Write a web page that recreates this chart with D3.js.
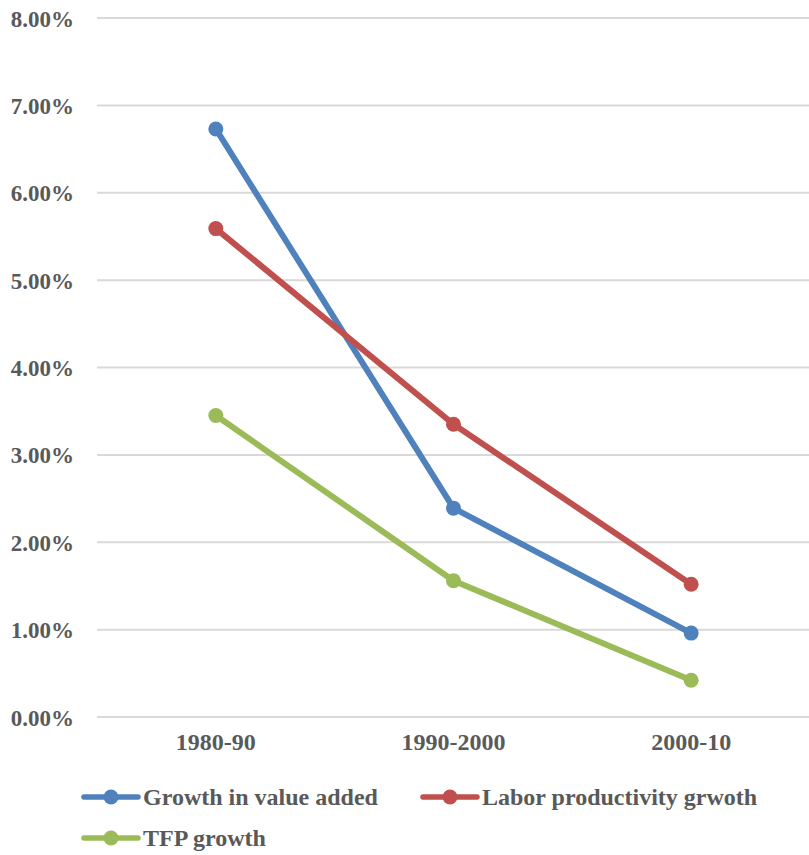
<!DOCTYPE html>
<html><head><meta charset="utf-8">
<script src="https://cdn.jsdelivr.net/npm/d3@7"></script>
<style>body{margin:0;background:#fff}</style>
</head><body>
<svg id="c" width="809" height="855"></svg>
<script>
const categories = ["1980-90", "1990-2000", "2000-10"];
const growthValueAdded = [6.73, 2.39, 0.96];
const laborProductivity = [5.59, 3.35, 1.52];
const tfpGrowth = [3.45, 1.56, 0.42];
const yTicks = [0, 1, 2, 3, 4, 5, 6, 7, 8];
const seriesNames = ["Growth in value added", "Labor productivity grwoth", "TFP growth"];
const seriesColors = ["#4F81BD", "#C0504D", "#9BBB59"];

const series = [growthValueAdded, laborProductivity, tfpGrowth].map((v, i) => ({name: seriesNames[i], color: seriesColors[i], values: v}));

const svg = d3.select("#c");
const font = "'Liberation Serif','Times New Roman',serif";
const x = d3.scaleBand().domain(categories).range([97, 810]);
const y = d3.scaleLinear().domain([0, 8]).range([717, 18]);

// gridlines
svg.append("g").selectAll("line").data(yTicks).join("line")
  .attr("x1", 97).attr("x2", 809)
  .attr("y1", d => y(d)).attr("y2", d => y(d))
  .attr("stroke", "#D9D9D9").attr("stroke-width", 2);

// y axis labels
const yAxis = d3.axisLeft(y).tickValues(yTicks).tickFormat(d => d.toFixed(2) + "%").tickSize(0).tickPadding(0);
const ya = svg.append("g").attr("transform", "translate(74,0)").call(yAxis);
ya.select(".domain").remove();
ya.selectAll("text").attr("font-family", font).attr("font-weight", "bold").attr("font-size", 23).attr("fill", "#595959").attr("dy", "0.35em");

// x axis labels
const xAxis = d3.axisBottom(x).tickSize(0).tickPadding(0);
const xa = svg.append("g").attr("transform", "translate(0,728)").call(xAxis);
xa.select(".domain").remove();
xa.selectAll("text").attr("font-family", font).attr("font-weight", "bold").attr("font-size", 24).attr("fill", "#595959").attr("dy", "0.9em");

const cx = c => x(c) + x.bandwidth() / 2;
const line = d3.line().x((d, i) => cx(categories[i])).y(d => y(d));

series.forEach(s => {
  svg.append("path").datum(s.values).attr("d", line)
    .attr("fill", "none").attr("stroke", s.color).attr("stroke-width", 6).attr("stroke-linejoin", "round").attr("stroke-linecap", "round");
  svg.append("g").selectAll("circle").data(s.values).join("circle")
    .attr("cx", (d, i) => cx(categories[i])).attr("cy", d => y(d)).attr("r", 7.5).attr("fill", s.color);
});

// legend
const legendPos = [[84, 797], [423, 797], [84, 838]];
series.forEach((s, i) => {
  const [lx, ly] = legendPos[i];
  const g = svg.append("g").attr("transform", `translate(${lx},${ly})`);
  g.append("line").attr("x1", 0).attr("x2", 54).attr("y1", 0).attr("y2", 0).attr("stroke", s.color).attr("stroke-width", 5.5).attr("stroke-linecap", "round");
  g.append("circle").attr("cx", 27).attr("cy", 0).attr("r", 7.5).attr("fill", s.color);
  g.append("text").attr("x", 59).attr("y", 0).attr("dy", "0.35em").text(s.name)
    .attr("font-family", font).attr("font-weight", "bold").attr("font-size", 24).attr("fill", "#595959");
});
</script>
</body></html>
